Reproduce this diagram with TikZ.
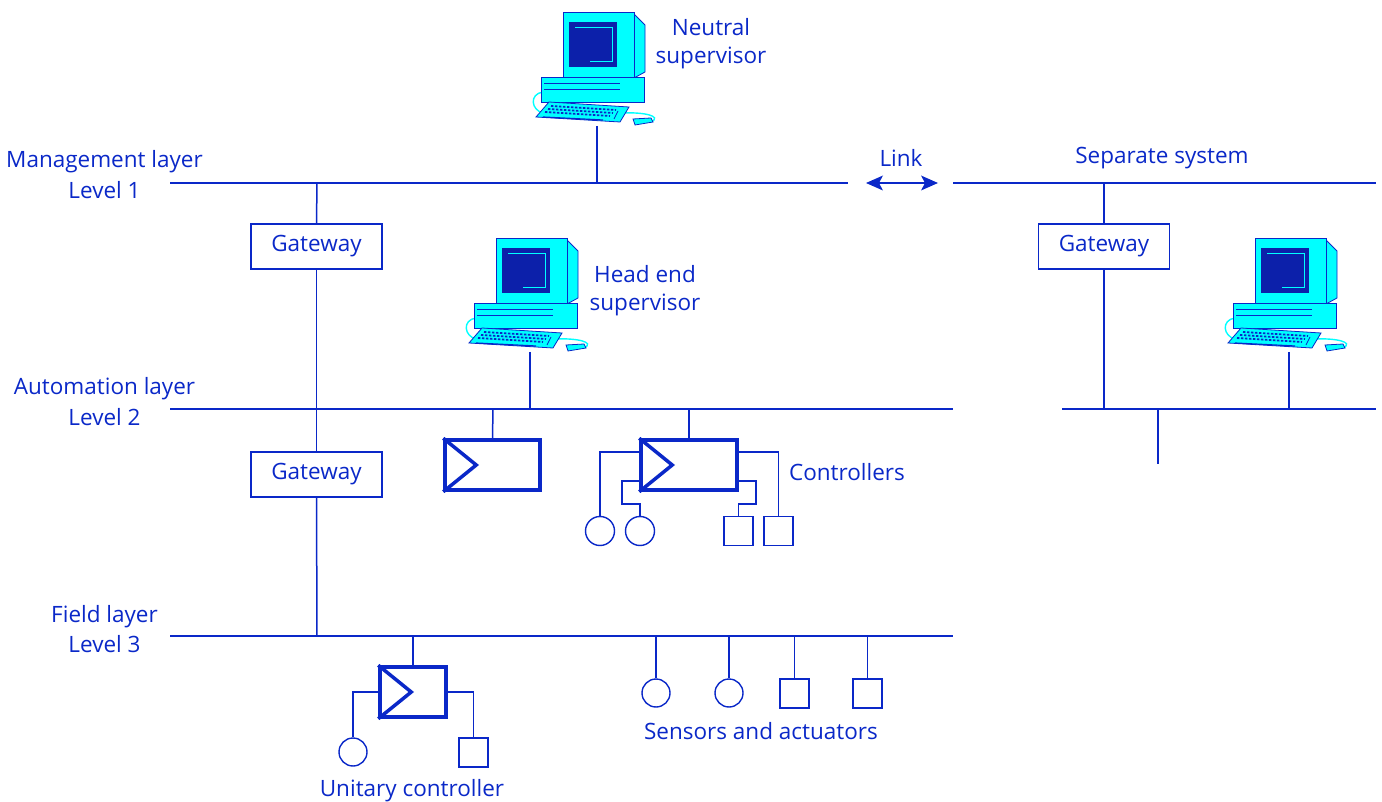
\documentclass[tikz,border=0pt]{standalone}
\usepackage{fontspec}
\setmainfont{Open Sans}
\usetikzlibrary{calc}
\definecolor{netblue}{RGB}{10,40,200}
\definecolor{pccyan}{RGB}{0,255,255}
\definecolor{pcscreen}{RGB}{12,32,170}
\tikzset{
  bus/.style={draw=netblue,line width=1.5pt},
  wire/.style={draw=netblue,line width=1.5pt},
  label/.style={text=netblue,font=\fontsize{22.5}{26}\selectfont,inner sep=0pt,align=center},
  gatebox/.style={draw=netblue,line width=1.3pt,minimum width=131pt,minimum height=45pt,inner sep=0pt,text=netblue,font=\fontsize{22.5}{26}\selectfont},
  ctrlbox/.style={draw=netblue,line width=3.5pt,inner sep=0pt},
  sensor/.style={draw=netblue,line width=1.4pt,circle,minimum size=29pt,inner sep=0pt},
  actuator/.style={draw=netblue,line width=1.4pt,minimum size=29pt,inner sep=0pt},
  pics/computer/.style={code={
    % monitor side panel and front
    \draw[netblue,line width=0.8pt,fill=pccyan] (71,2) -- (82,13) -- (82,60) -- (71,66) -- cycle;
    \draw[netblue,line width=0.8pt,fill=pccyan] (0,0) rectangle (71,66);
    \fill[pcscreen] (6,10) rectangle (54,55);
    \draw[pccyan,line width=1pt] (12,16) -- (49,16) -- (49,50) -- (27,50);
    % cables
    \draw[pccyan,line width=1.4pt] (-20,80) .. controls (-34,82) and (-32,98) .. (-20,101);
    \draw[pccyan,line width=1.4pt] (60,101) .. controls (80,100) and (100,104) .. (88,110);
    % system unit
    \draw[netblue,line width=0.8pt,fill=pccyan] (-22,65) rectangle (81,90);
    \draw[netblue,line width=1pt] (-19,72) -- (57,72) (-19,78) -- (57,78);
    % keyboard
    \draw[netblue,line width=0.8pt,fill=pccyan] (-14,90) -- (66,95) -- (57,110) -- (-27,105) -- cycle;
    \foreach \r in {0,1,2} {
      \draw[netblue,line width=1.8pt,dash pattern=on 2.4pt off 1.6pt]
        ({-12-3*\r},{94+3*\r}) -- ({53-3*\r},{98+3*\r});
    }
    \draw[netblue,line width=1.2pt] (-20,105) -- (40,108);
    \draw[netblue,line width=0.8pt] (55,99) -- (51,107);
    % mouse
    \draw[netblue,line width=0.8pt,fill=pccyan] (70,107) -- (88,106) -- (90,110) -- (72,113) -- cycle;
  }}
}
\begin{document}
\begin{tikzpicture}[x=1pt,y=-1pt]
\useasboundingbox (0,0) rectangle (1382,802);

% ---------- layer labels ----------
\node[label] (mgmt) at (104.5,162) {Management layer};
\node[label] (lvl1) at (104.5,190) {Level 1};
\node[label] (auto) at (104.5,389) {Automation layer};
\node[label] (lvl2) at (104.5,417) {Level 2};
\node[label] (fld)  at (104.5,617) {Field layer};
\node[label] (lvl3) at (104.5,644) {Level 3};

% ---------- buses ----------
\coordinate (m1) at (170,183);  \coordinate (m2) at (848,183);
\coordinate (m3) at (953,183);  \coordinate (m4) at (1376,183);
\coordinate (a1) at (170,409);  \coordinate (a2) at (953,409);
\coordinate (a3) at (1062,409); \coordinate (a4) at (1376,409);
\coordinate (f1) at (170,636);  \coordinate (f2) at (953,636);
\draw[bus] (m1) -- (m2);
\draw[bus] (m3) -- (m4);
\draw[bus] (a1) -- (a2);
\draw[bus] (a3) -- (a4);
\draw[bus] (f1) -- (f2);

% ---------- link (double arrow with filled stealth heads) ----------
\coordinate (lkL) at (866,183); \coordinate (lkR) at (938,183);
\draw[bus] ($(lkL)+(8,0)$) -- ($(lkR)-(8,0)$);
\fill[netblue] (lkL) -- ++(17,-7.5) -- ++(-4,7.5) -- ++(4,7.5) -- cycle;
\fill[netblue] (lkR) -- ++(-17,-7.5) -- ++(4,7.5) -- ++(-4,7.5) -- cycle;
\node[label] (link) at (901,158) {Link};
\node[label] (sep) at (1162,158) {Separate system};

% ---------- neutral supervisor ----------
\pic at (563,12) {computer};
\coordinate (ns) at (597,126);
\draw[wire] (ns) -- (597,183);
\node[label] (nslbl) at (711,44) {Neutral\\[2pt]supervisor};

% ---------- gateways ----------
\node[gatebox] (gw1) at (316.5,246.5) {Gateway};
\node[gatebox] (gw2) at (316.5,474.5) {Gateway};
\node[gatebox] (gw3) at (1104,246.5) {Gateway};
\draw[wire] (317,183) -- (gw1.north);
\draw[wire] (gw1.south) -- (gw2.north);
\draw[wire] (gw2.south) -- (317,636);
\draw[wire] (1104,183) -- (gw3.north);
\draw[wire] (gw3.south) -- (1104,409);

% ---------- head end supervisor ----------
\pic at (496,238) {computer};
\coordinate (he) at (530,352);
\draw[wire] (he) -- (530,409);
\node[label] (helbl) at (645,291) {Head end\\[2pt]supervisor};

% ---------- separate system workstation ----------
\pic at (1255,238) {computer};
\coordinate (ss) at (1289,352);
\draw[wire] (ss) -- (1289,409);
\coordinate (stub) at (1158,464);
\draw[wire] (1158,409) -- (stub);

% ---------- automation controllers ----------
\node[ctrlbox,minimum width=95pt,minimum height=50pt] (c1) at (492.5,465) {};
\draw[netblue,line width=3.5pt,line join=miter] (c1.north west) -- ($(c1.west)+(33,0)$) -- (c1.south west);
\draw[wire] (493,409) -- (c1.north);

\node[ctrlbox,minimum width=96pt,minimum height=50pt] (c2) at (689,465) {};
\draw[netblue,line width=3.5pt,line join=miter] (c2.north west) -- ($(c2.west)+(33,0)$) -- (c2.south west);
\draw[wire] (689,409) -- (c2.north);
\node[label] (ctrls) at (847,472) {Controllers};

\node[sensor] (s1) at (600,531) {};
\node[sensor] (s2) at (640,531) {};
\node[actuator] (q1) at (738.5,531) {};
\node[actuator] (q2) at (778.5,531) {};
\draw[wire] (641,452) -- (600,452) -- (s1.north);
\draw[wire] (641,481) -- (622,481) -- (622,504) -- (640,504) -- (s2.north);
\draw[wire] (737,481) -- (756,481) -- (756,504) -- (738.5,504) -- (q1.north);
\draw[wire] (737,452) -- (778.5,452) -- (q2.north);

% ---------- unitary controller ----------
\node[ctrlbox,minimum width=66pt,minimum height=50pt] (uc) at (413,692) {};
\draw[netblue,line width=3.5pt,line join=miter] (uc.north west) -- ($(uc.west)+(33,0)$) -- (uc.south west);
\draw[wire] (413,636) -- (uc.north);
\node[sensor,minimum size=28pt] (us) at (353,752) {};
\node[actuator] (ua) at (473.5,752.5) {};
\draw[wire] (uc.west) -- (353,692) -- (us.north);
\draw[wire] (uc.east) -- (473.5,692) -- (ua.north);
\node[label] (uclbl) at (412,791) {Unitary controller};

% ---------- field devices ----------
\node[sensor,minimum size=28pt] (fs1) at (656,693) {};
\node[sensor,minimum size=28pt] (fs2) at (729,693) {};
\node[actuator] (fa1) at (794.5,693.5) {};
\node[actuator] (fa2) at (867.5,693.5) {};
\draw[wire] (656,636) -- (fs1.north);
\draw[wire] (729,636) -- (fs2.north);
\draw[wire] (794.5,636) -- (fa1.north);
\draw[wire] (867.5,636) -- (fa2.north);
\node[label] (salbl) at (761,731) {Sensors and actuators};
\end{tikzpicture}
\end{document}
